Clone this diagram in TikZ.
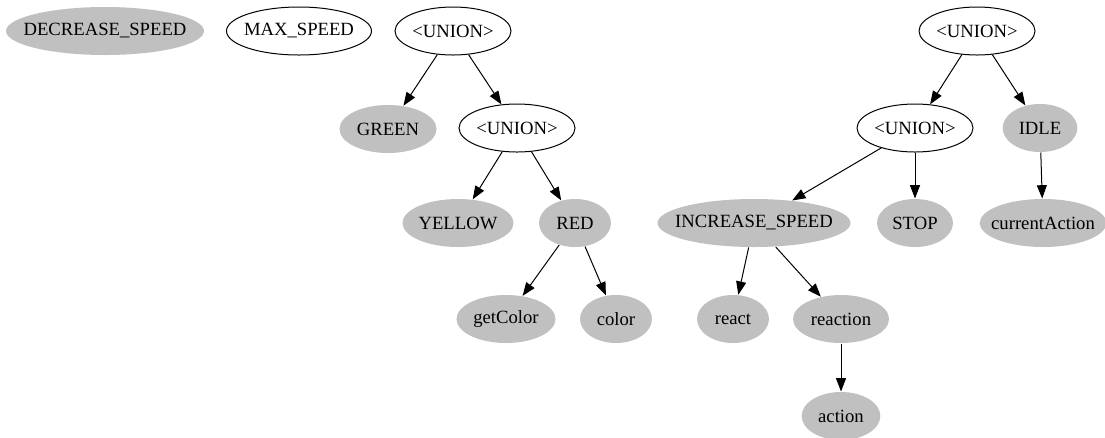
\documentclass[tikz,border=0pt]{standalone}
\usepackage{fontspec}
\setmainfont{Liberation Serif}
\usetikzlibrary{shapes.geometric,arrows.meta}
\newcommand{\nlab}[1]{\makebox[0pt]{#1}}
\tikzset{
  base/.style={ellipse, inner sep=0pt, minimum height=36pt, line width=0.75pt,
    font=\fontsize{14}{16}\selectfont},
  filledn/.style={base, fill={rgb,255:red,192;green,192;blue,192}},
  openn/.style={base, draw=black, fill=white},
  edge/.style={line width=0.75pt, -{Triangle[length=10pt,width=7.5pt]}}
}
\begin{document}
\begin{tikzpicture}[x=0.75pt,y=-0.75pt]
\useasboundingbox (0,0) rectangle (1105,437);
\fill[white] (0,0) rectangle (1105,437);
% left group
\node[filledn, minimum width=148.5pt] (ds) at (105,31) {\nlab{DECREASE\_SPEED}};
\node[openn, minimum width=108.75pt] (ms) at (299,31) {\nlab{MAX\_SPEED}};
\node[openn, minimum width=87pt] (u1) at (453,31) {\nlab{<UNION>}};
\node[filledn, minimum width=72.75pt] (green) at (388,129) {\nlab{GREEN}};
\node[openn, minimum width=87pt] (u2) at (517,128) {\nlab{<UNION>}};
\node[filledn, minimum width=83.25pt] (yellow) at (458,223) {\nlab{YELLOW}};
\node[filledn, minimum width=54pt] (red) at (575,223) {\nlab{RED}};
\node[filledn, minimum width=74.25pt] (getcolor) at (506,319) {\nlab{getColor}};
\node[filledn, minimum width=54pt] (color) at (616,319) {\nlab{color}};
% right group
\node[openn, minimum width=87pt] (u3) at (977,31) {\nlab{<UNION>}};
\node[openn, minimum width=87pt] (u4) at (915,128) {\nlab{<UNION>}};
\node[filledn, minimum width=56pt] (idle) at (1040,128) {\nlab{IDLE}};
\node[filledn, minimum width=144.75pt] (inc) at (754,223) {\nlab{INCREASE\_SPEED}};
\node[filledn, minimum width=57pt] (stop) at (915,223) {\nlab{STOP}};
\node[filledn, minimum width=95pt] (ca) at (1043,223) {\nlab{currentAction}};
\node[filledn, minimum width=54pt] (react) at (733,319) {\nlab{react}};
\node[filledn, minimum width=72pt] (reaction) at (841,319) {\nlab{reaction}};
\node[filledn, minimum width=59pt] (action) at (841,416) {\nlab{action}};
% edges
\draw[edge] (u1) -- (green);
\draw[edge] (u1) -- (u2);
\draw[edge] (u2) -- (yellow);
\draw[edge] (u2) -- (red);
\draw[edge] (red) -- (getcolor);
\draw[edge] (red) -- (color);
\draw[edge] (u3) -- (u4);
\draw[edge] (u3) -- (idle);
\draw[edge] (u4) -- (inc);
\draw[edge] (u4) -- (stop);
\draw[edge] (idle) -- (ca);
\draw[edge] (inc) -- (react);
\draw[edge] (inc) -- (reaction);
\draw[edge] (reaction) -- (action);
\end{tikzpicture}
\end{document}
